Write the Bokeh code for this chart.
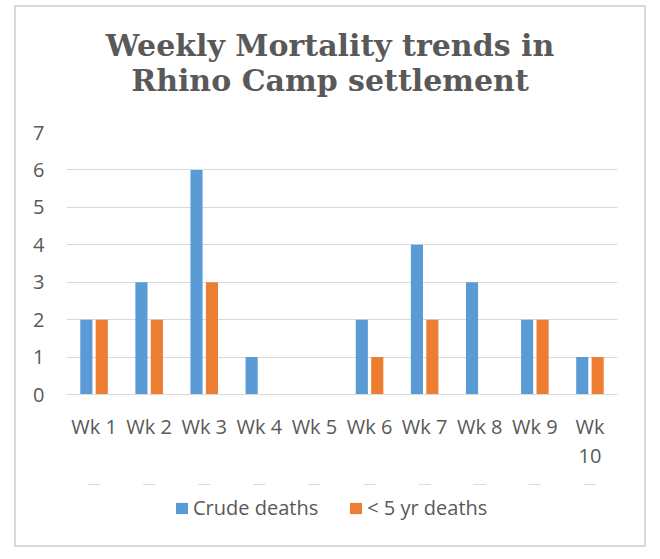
from bokeh.plotting import figure
from bokeh.layouts import column
from bokeh.models import (Legend, LegendItem, ColumnDataSource, Range1d, FixedTicker,
                          CategoricalAxis, CustomJSTickFormatter, BoxAnnotation)
from bokeh.core.properties import value
from bokeh.transform import dodge
from bokeh.embed import file_html
from bokeh.resources import INLINE

weeks = ["Wk 1", "Wk 2", "Wk 3", "Wk 4", "Wk 5", "Wk 6", "Wk 7", "Wk 8", "Wk 9", "Wk 10"]
crude_deaths = [2, 3, 6, 1, 0, 2, 4, 3, 2, 1]
under5_deaths = [2, 2, 3, 0, 0, 1, 2, 0, 2, 1]
y_ticks = [0, 1, 2, 3, 4, 5, 6, 7]
title_lines = ["Weekly Mortality trends in", "Rhino Camp settlement"]
series_names = ["Crude deaths", "< 5 yr deaths"]

src = ColumnDataSource(dict(weeks=weeks, crude=crude_deaths, u5=under5_deaths))

TXT = "#595959"
GRID = "#d9d9d9"
BLUE = "#5B9BD5"
ORANGE = "#ED7D31"
FONT = "Open Sans"
FS = "20px"
FW = 551          # frame width shared by all three blocks
BL, BR = 50, 27   # left / right borders
TH = 110
LH = 61

common = dict(frame_width=FW, min_border_left=BL, min_border_right=BR,
              output_backend="svg", toolbar_location=None, outline_line_color=None)

# ---- title block (pixel coordinates relative to frame, y from top) ----
tfig = figure(height=TH, x_range=Range1d(0, FW), y_range=Range1d(TH, 0),
              x_axis_location=None, y_axis_location=None,
              min_border_top=0, min_border_bottom=0, **common)
tfig.grid.visible = False
cx = (BL + FW + BR) / 2 - BL - 0.5
tfig.text(x=[cx] * 2, y=[38, 73], text=title_lines,
          text_font=value("DejaVu Serif"), text_font_size="30px", text_font_style="bold",
          text_color=TXT, text_align="center", text_baseline="middle")

# ---- chart ----
p = figure(x_range=weeks, y_range=Range1d(0, 7), frame_height=262,
           min_border_top=15, min_border_bottom=90, **common)

r1 = p.vbar(x=dodge("weeks", -0.14, range=p.x_range), top="crude", width=0.22, source=src,
            fill_color=BLUE, line_color=None)
r2 = p.vbar(x=dodge("weeks", 0.14, range=p.x_range), top="u5", width=0.22, source=src,
            fill_color=ORANGE, line_color=None)

p.xgrid.grid_line_color = None
p.ygrid.grid_line_color = GRID
p.yaxis.ticker = FixedTicker(ticks=y_ticks)
p.yaxis.axis_line_color = None
p.yaxis.major_tick_line_color = None
p.yaxis.minor_tick_line_color = None
p.yaxis.major_label_standoff = 16
p.xaxis.axis_line_color = GRID
p.xaxis.major_tick_line_color = None
p.xaxis.major_label_standoff = 12
p.xaxis.formatter = CustomJSTickFormatter(code="return tick == 'Wk 10' ? 'Wk' : tick;")

x2 = CategoricalAxis(axis_line_color=None, major_tick_line_color=None, major_label_standoff=0,
                     formatter=CustomJSTickFormatter(code="return tick == 'Wk 10' ? '10' : '';"))
p.add_layout(x2, "below")

for ax in (p.xaxis[0], p.yaxis[0], x2):
    ax.major_label_text_font = FONT
    ax.major_label_text_font_size = FS
    ax.major_label_text_color = TXT

# ---- legend block (same series, kept out of view so only the legend shows) ----
lfig = figure(height=LH, x_range=p.x_range, y_range=Range1d(-2, -1),
              x_axis_location=None, y_axis_location=None,
              min_border_top=0, min_border_bottom=0, **common)
lfig.grid.visible = False
l1 = lfig.vbar(x="weeks", top="crude", width=0.22, source=src, fill_color=BLUE, line_color=None)
l2 = lfig.vbar(x="weeks", top="u5", width=0.22, source=src, fill_color=ORANGE, line_color=None)
lfig.add_layout(BoxAnnotation(fill_color="white", fill_alpha=1.0, line_color=None))
legend = Legend(items=[LegendItem(label=series_names[0], renderers=[l1]),
                       LegendItem(label=series_names[1], renderers=[l2])],
                orientation="horizontal", location=(108, 24),
                glyph_width=15, glyph_height=14, spacing=30, margin=0, padding=0,
                label_standoff=4,
                label_text_font=FONT, label_text_font_size=FS,
                label_text_color=TXT, border_line_color=None, background_fill_alpha=0)
lfig.add_layout(legend)

layout = column(tfig, p, lfig, spacing=0, margin=(5, 0, 0, 14),
                styles={"border": "2px solid #d9d9d9", "background": "white"})

open("out.html", "w").write(file_html(layout, INLINE))
